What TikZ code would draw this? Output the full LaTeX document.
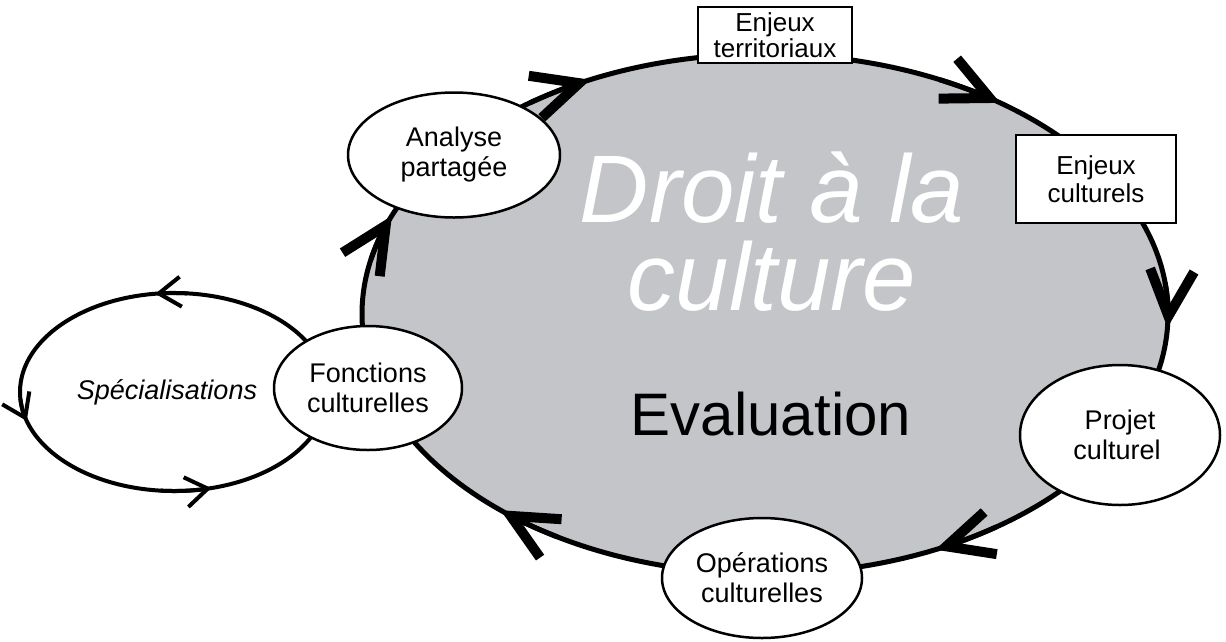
\documentclass[tikz,border=0pt]{standalone}
\usepackage{fontspec}
\setmainfont{Liberation Sans}
\usetikzlibrary{shapes.geometric,arrows.meta}
\definecolor{cycgray}{RGB}{195,197,200}
\begin{document}
\begin{tikzpicture}[x=1pt,y=-1pt,
  lbl/.style={font=\fontsize{27}{30}\selectfont, align=center},
  oval/.style={ellipse, draw, line width=2.5pt, fill=white, inner sep=0pt, lbl},
  boxn/.style={rectangle, draw, line width=2.5pt, fill=white, inner sep=0pt, lbl},
  bigtip/.style={line width=5pt, -{Straight Barb[length=46pt, width=44pt, line width=10pt]}},
  smalltip/.style={line width=4pt, -{Straight Barb[length=22pt, width=30pt, line width=4pt]}},
]
\useasboundingbox (0,0) rectangle (1226,641);
% main cycle
\node[ellipse, draw, line width=5pt, fill=cycgray, minimum width=806pt, minimum height=520pt, inner sep=0pt] (cyc) at (765,314) {};
\foreach \t [evaluate=\t as \s using \t-10] in {-115.7, -54.3, 3, 65, 131, 202.2} {
  \draw[bigtip] (cyc.center) ++(\s:403 and 260) arc[start angle=\s, end angle=\t, x radius=403, y radius=260];
}
% specialisation loop
\node[ellipse, draw, line width=4pt, minimum width=308pt, minimum height=198pt, inner sep=0pt, font=\fontsize{27}{30}\selectfont\itshape] (spec) at (174,392) {Spécialisations\hspace*{14pt}};
\foreach \t/\s in {-85/-97, 176/163, 95/76} {
  \draw[smalltip] (spec.center) ++(\t:154 and 99) arc[start angle=\t, end angle=\s, x radius=154, y radius=99];
}
% texts
\node[text=white, font=\fontsize{96}{88}\selectfont\itshape, align=center, anchor=base] (droit) at (772,310) {Droit à la\\culture};
\node[font=\fontsize{60}{72}\selectfont, anchor=base] (eval) at (771,435) {Evaluation};
% stations
\node[oval, minimum width=188pt, minimum height=124pt] (fonc) at (368,388) {Fonctions\\culturelles};
\node[oval, minimum width=212pt, minimum height=125pt] (analyse) at (454,155) {Analyse\\partagée};
\node[boxn, minimum width=154pt, minimum height=56pt, font=\fontsize{26}{26}\selectfont] (enjT) at (775,35) {Enjeux\\territoriaux};
\node[boxn, minimum width=160pt, minimum height=88pt, font=\fontsize{26}{28}\selectfont] (enjC) at (1096,179) {Enjeux\\culturels};
\node[oval, minimum width=200pt, minimum height=140pt] (projet) at (1120,435) {Projet\\culturel\hspace*{6pt}};
\node[oval, minimum width=200pt, minimum height=120pt] (ops) at (762,578) {Opérations\\culturelles};
\end{tikzpicture}
\end{document}
